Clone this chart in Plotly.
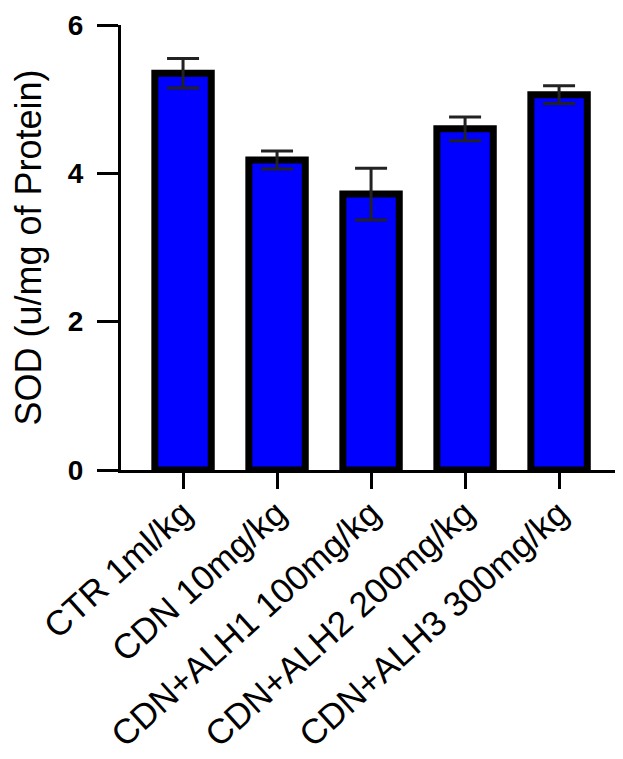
import plotly.graph_objects as go

categories = ["CTR 1ml/kg", "CDN 10mg/kg", "CDN+ALH1 100mg/kg",
              "CDN+ALH2 200mg/kg", "CDN+ALH3 300mg/kg"]
sod_mean = [5.35, 4.18, 3.72, 4.60, 5.06]
sod_err = [0.20, 0.12, 0.35, 0.16, 0.12]
y_ticks = [0, 2, 4, 6]

fig = go.Figure()
fig.add_trace(go.Bar(
    x=categories,
    y=sod_mean,
    width=0.6,
    marker=dict(color="#0000FF", line=dict(color="black", width=7)),
    error_y=dict(type="data", array=sod_err, visible=True,
                 color="#222222", thickness=3, width=16),
))

# page body has an 8px default margin, so the figure is 8px smaller
fig.update_layout(
    width=615, height=751,
    margin=dict(l=113, r=0, t=17, b=289),
    plot_bgcolor="white", paper_bgcolor="white",
    showlegend=False,
    font=dict(family="Arial, Liberation Sans, sans-serif", color="black"),
)
fig.update_xaxes(
    range=[-0.66, 4.68],
    showline=True, linecolor="black", linewidth=3,
    ticks="outside", ticklen=16, tickwidth=3, tickcolor="black",
    tickangle=-42,
    ticklabelstandoff=-10,
    tickfont=dict(size=35, color="black"),
    showgrid=False, zeroline=False,
    automargin=False,
)
fig.update_yaxes(
    range=[0, 6],
    tickvals=y_ticks,
    ticktext=[f"<b>{v}</b>" for v in y_ticks],
    showline=True, linecolor="black", linewidth=3,
    ticks="outside", ticklen=21, tickwidth=3, tickcolor="black",
    ticklabelstandoff=8,
    tickfont=dict(size=28, color="black"),
    showgrid=False, zeroline=False,
    title=dict(text="SOD (u/mg of Protein)", font=dict(size=36, color="black"),
               standoff=24),
    automargin=False,
)

fig.write_html("out.html")
